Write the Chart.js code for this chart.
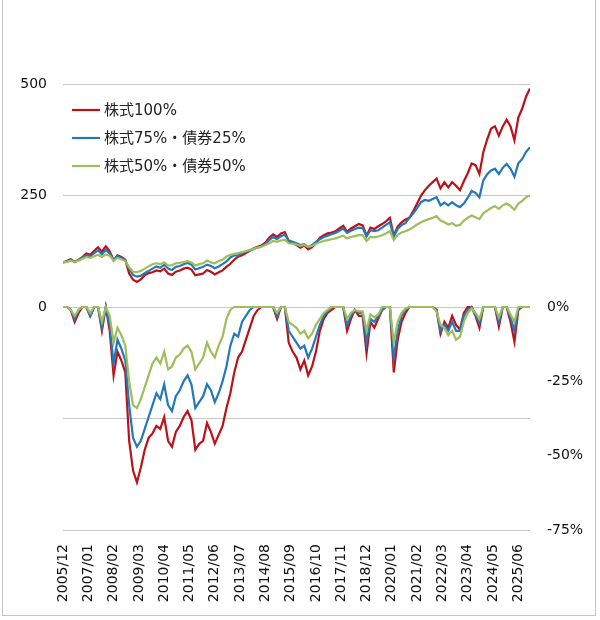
<!DOCTYPE html>
<html>
<head>
<meta charset="utf-8">
<script src="https://cdn.jsdelivr.net/npm/chart.js@4.4.1/dist/chart.umd.min.js"></script>
<style>
  body { margin: 0; background: #fff; }
  #wrap { position: relative; width: 600px; height: 620px; }
  #frame { position: absolute; left: 2px; top: -2px; width: 592px; height: 616px; border: 1px solid #c4c4c4; }
  canvas { position: absolute; left: 0; top: 0; }
</style>
</head>
<body>
<div id="wrap">
  <div id="frame"></div>
  <canvas id="chart" width="600" height="620"></canvas>
</div>
<script>
// months since 2005/12, sampled every 2 months
const months = Array.from({ length: 121 }, (_, k) => k * 2);
const tickMonths = [0, 13, 26, 39, 52, 65, 78, 91, 104, 117, 130, 143, 156, 169, 182, 195, 208, 221, 234];

const seriesNames = ['株式100%', '株式75%・債券25%', '株式50%・債券50%'];
const colors = ['#BC1119', '#2378B8', '#9DBE5A'];

// cumulative value (start = 100)
const stock100 = [
  100, 103, 107, 101, 106, 112, 120, 117, 126, 134,
  124, 136, 125, 105, 116, 112, 106, 75, 61, 56,
  62, 71, 76, 78, 82, 80, 86, 75, 72, 79,
  82, 86, 88, 84, 71, 73, 75, 83, 79, 73,
  78, 82, 90, 97, 106, 113, 116, 121, 126, 132,
  135, 138, 144, 156, 163, 157, 165, 168, 148, 143,
  139, 133, 138, 129, 134, 143, 155, 161, 165, 167,
  170, 176, 182, 169, 176, 181, 186, 183, 160, 178,
  175, 181, 186, 192, 200, 160, 180, 190, 196, 200,
  215, 232, 250, 262, 272, 280, 288, 266, 280, 268,
  280, 272, 262, 282, 300, 322, 318, 298, 347, 376,
  400, 405, 384, 405, 420, 405, 374, 425, 445, 472,
  490
];
const stock75 = [
  100, 102, 106, 101, 105, 110, 116, 113, 121, 127,
  118, 128, 120, 104, 114, 110, 105, 86, 72, 68,
  70, 76, 81, 86, 91, 88, 95, 86, 83, 90,
  92, 96, 99, 95, 84, 87, 90, 95, 92, 87,
  91, 96, 102, 111, 116, 115, 122, 124, 127, 130,
  133, 136, 141, 150, 157, 152, 159, 162, 149, 146,
  143, 139, 141, 134, 139, 146, 152, 157, 160, 163,
  166, 171, 176, 166, 171, 175, 178, 177, 158, 172,
  170, 172, 178, 184, 190, 158, 175, 184, 188, 200,
  210, 222, 235, 240, 238, 242, 246, 228, 234, 228,
  235, 228, 224, 232, 245, 260, 256, 246, 284, 298,
  306, 310, 298, 312, 321, 310, 292, 322, 332, 348,
  358
];
const stock50 = [
  100, 101, 104, 101, 104, 108, 112, 110, 114, 117,
  112, 118, 115, 104, 110, 107, 103, 89, 79, 78,
  81, 86, 91, 96, 98, 96, 100, 93, 94, 98,
  99, 101, 103, 100, 93, 96, 98, 104, 100, 98,
  103, 106, 113, 117, 119, 121, 123, 125, 128, 131,
  133, 135, 139, 143, 148, 146, 149, 151, 143, 142,
  140, 137, 139, 135, 137, 142, 145, 148, 150, 152,
  154, 157, 160, 154, 157, 159, 161, 161, 148, 157,
  156, 158, 161, 165, 170, 150, 162, 167, 170, 174,
  179, 185, 190, 194, 197, 200, 204, 194, 190, 185,
  188, 182, 184, 194, 200, 205, 201, 197, 210, 216,
  222, 226, 220, 228, 232, 226, 218, 232, 238, 246,
  250
];

// drawdown from previous peak (%)
const dd100 = [
  0, 0, -1, -5, -2, 0, 0, -3, 0, 0,
  -8, 0, -8, -23, -15, -18, -22, -45, -55, -59,
  -54, -48, -44, -42.5, -40, -41, -37, -45, -47, -42,
  -40, -37, -35, -38, -48, -46, -45, -39, -42, -46,
  -43, -40, -34, -29, -22, -17, -15, -11, -7, -3,
  -1, 0, 0, 0, 0, -4, 0, 0, -12, -15,
  -17, -21, -18, -23, -20, -15, -8, -4, -2, -1,
  0, 0, 0, -8, -4, -1, -3, -3, -15.6, -5,
  -7, -4, -1, 0, 0, -22, -11, -5, -2, 0,
  0, 0, 0, 0, 0, 0, -1, -9, -5, -7,
  -3, -6, -7.6, -2, 0, 0, -3, -7, 0, 0,
  0, 0, -6.6, 0, 0, -5, -11.7, -1, 0, 0,
  0
];
const dd75 = [
  0, 0, -1, -4, -1, 0, 0, -3, 0, 0,
  -7, 0, -6, -19, -11, -14, -18, -33, -44, -47,
  -45, -41, -37, -33, -29, -31, -26, -33, -35, -30,
  -28, -25, -23, -26, -34, -32, -30, -26, -28, -32,
  -29, -25, -20, -13, -9, -10, -5, -3, -1, 0,
  0, 0, 0, 0, 0, -3, 0, 0, -8, -10,
  -12, -14, -13, -17, -14, -10, -6, -3, -1.5, 0,
  0, 0, 0, -6, -3, -1, -2, -2, -12, -4,
  -5, -3, -1, 0, 0, -17, -8, -3, -1, 0,
  0, 0, 0, 0, 0, 0, -1, -8, -6, -8,
  -5, -8, -8, -3, -1, 0, -2.5, -5.5, 0, 0,
  0, 0, -5, 0, 0, -3.5, -8, -0.5, 0, 0,
  0
];
const dd50 = [
  0, 0, -1, -3, -1, 0, 0, -2, 0, 0,
  -5, 0, -3, -12, -7, -9.5, -13, -25, -33, -34,
  -31, -27, -23, -19, -17, -19, -15, -21, -20, -17,
  -16, -14, -13, -15, -21, -19, -17, -12, -15, -17,
  -13, -10, -4, -1, 0, 0, 0, 0, 0, 0,
  0, 0, 0, 0, 0, -2, 0, 0, -5, -6,
  -7, -9, -8, -10.5, -9, -6, -4, -2, -1, 0,
  0, 0, 0, -4, -2, -1, -1.5, -1.5, -8, -2.5,
  -3.5, -2.5, 0, 0, 0, -12, -5, -2, -0.5, 0,
  0, 0, 0, 0, 0, 0, -1.5, -6, -7, -9.5,
  -8, -11, -10, -5, -2, -0.5, -2, -4, 0, 0,
  0, 0, -3.5, 0, 0, -2.5, -5, 0, 0, 0,
  0
];

const toPoints = arr => months.map((m, k) => ({ x: m, y: arr[k] }));

function monthLabel(i) {
  const n = 11 + i;
  const year = 2005 + Math.floor(n / 12);
  const mon = (n % 12) + 1;
  return year + '/' + String(mon).padStart(2, '0');
}

function line(data, k, axis) {
  return {
    label: seriesNames[k],
    data: toPoints(data),
    yAxisID: axis,
    borderColor: colors[k],
    borderWidth: 2.2,
    pointRadius: 0,
    tension: 0,
    fill: false,
    order: 2 - k
  };
}

const legendBox = {
  id: 'legendBox',
  afterDraw(chart) {
    const ctx = chart.ctx;
    ctx.save();
    ctx.font = '15px "DejaVu Sans", "Noto Sans CJK JP", sans-serif';
    ctx.textBaseline = 'middle';
    seriesNames.forEach((name, k) => {
      const y = 110 + k * 28;
      ctx.strokeStyle = colors[k];
      ctx.lineWidth = 2.2;
      ctx.beginPath();
      ctx.moveTo(72, y);
      ctx.lineTo(100, y);
      ctx.stroke();
      ctx.fillStyle = '#222';
      ctx.fillText(name, 104, y + 1);
    });
    ctx.restore();
  }
};

const tickFont = { family: '"DejaVu Sans", sans-serif', size: 14 };

new Chart(document.getElementById('chart'), {
  type: 'line',
  data: {
    datasets: [
      line(stock100, 0, 'y'),
      line(stock75, 1, 'y'),
      line(stock50, 2, 'y'),
      line(dd100, 0, 'y1'),
      line(dd75, 1, 'y1'),
      line(dd50, 2, 'y1')
    ]
  },
  options: {
    responsive: false,
    animation: false,
    devicePixelRatio: 1,
    layout: { padding: { top: 84, left: 0, right: 0, bottom: 0 } },
    plugins: { legend: { display: false }, tooltip: { enabled: false } },
    scales: {
      x: {
        type: 'linear',
        min: 0,
        max: 240,
        afterBuildTicks: s => { s.ticks = tickMonths.map(v => ({ value: v })); },
        afterFit: s => { s.height = 90; },
        grid: { display: false },
        border: { display: false },
        ticks: {
          autoSkip: false,
          minRotation: 90,
          maxRotation: 90,
          padding: 6,
          color: '#111',
          font: tickFont,
          callback: v => monthLabel(v)
        }
      },
      y: {
        position: 'left',
        min: -500,
        max: 500,
        afterFit: s => { s.width = 63; },
        grid: { display: true, drawOnChartArea: true, color: '#c8c8c8', lineWidth: 1, drawTicks: false },
        border: { display: false },
        ticks: {
          stepSize: 250,
          padding: 16,
          color: '#111',
          font: tickFont,
          callback: v => (v >= 0 ? v : '')
        }
      },
      y1: {
        position: 'right',
        min: -75,
        max: 75,
        afterFit: s => { s.width = 70; },
        grid: { display: false, drawTicks: false },
        border: { display: false },
        ticks: {
          stepSize: 25,
          padding: 17,
          color: '#111',
          font: tickFont,
          callback: v => (v <= 0 ? v + '%' : '')
        }
      }
    }
  },
  plugins: [legendBox]
});
</script>
</body>
</html>
